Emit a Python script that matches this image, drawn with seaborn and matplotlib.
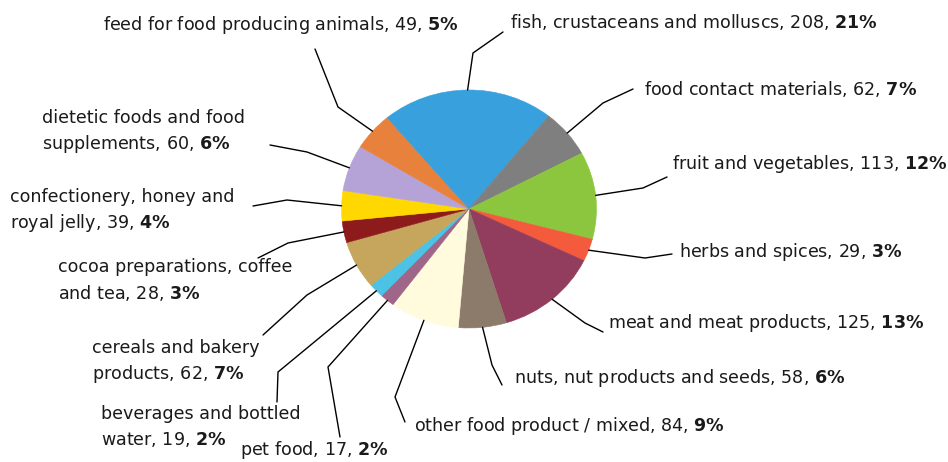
import numpy as np
import matplotlib
matplotlib.use("Agg")
import matplotlib.pyplot as plt
import seaborn as sns

# Notifications by product category (alphabetical, drawn clockwise)
categories = [
    "beverages and bottled\nwater",
    "cereals and bakery\nproducts",
    "cocoa preparations, coffee\nand tea",
    "confectionery, honey and\nroyal jelly",
    "dietetic foods and food\nsupplements",
    "feed for food producing animals",
    "fish, crustaceans and molluscs",
    "food contact materials",
    "fruit and vegetables",
    "herbs and spices",
    "meat and meat products",
    "nuts, nut products and seeds",
    "other food product / mixed",
    "pet food",
]
counts = [19, 62, 28, 39, 60, 49, 208, 62, 113, 29, 125, 58, 84, 17]
percents = [2, 7, 3, 4, 6, 5, 21, 7, 12, 3, 13, 6, 9, 2]
slice_colors = [
    "#4cc2e4", "#c6a55c", "#8e1b1b", "#ffd802", "#b5a3d8", "#e8813c", "#38a0dc",
    "#7f7f7f", "#8cc63f", "#f45b3c", "#923d5e", "#8c7a6a", "#fffbdc", "#a0668a",
]

# label anchor (left, vertical centre) and leader-line elbow / end, in pixels from top-left
label_pos = [
    (101, 427), (92, 361), (58, 280), (10, 210), (42, 131), (103, 25), (510, 22),
    (644, 89), (672, 164), (679, 252), (608, 323), (514, 378), (414, 426), (240, 450),
]
elbows = [
    (278, 372), (307, 295), (288, 243), (287, 200), (307, 152), (338, 107), (473, 53),
    (603, 103), (643, 188), (645, 258), (585, 323), (492, 365), (395, 397), (328, 367),
]
ends = [
    (277, 402), (263, 335), (258, 258), (253, 206), (270, 145), (315, 49), (503, 32),
    (633, 89), (667, 177), (672, 254), (603, 332), (502, 385), (405, 422), (340, 437),
]

W, H, DPI = 948, 462, 100
CX, CY, RX, RY = 469, 209, 127.5, 119
PAD = 1.04
LINE_STEP = 25.5

sns.set_theme(style="white")
plt.rcParams["font.family"] = ["DejaVu Sans"]
plt.rcParams["mathtext.fontset"] = "dejavusans"

fig = plt.figure(figsize=(W / DPI, H / DPI), dpi=DPI)
fig.patch.set_facecolor("white")

ax = fig.add_axes([(CX - RX * PAD) / W, (H - CY - RY * PAD) / H,
                   2 * RX * PAD / W, 2 * RY * PAD / H])
palette = sns.color_palette(slice_colors)
wedges, _ = ax.pie(counts, colors=palette, startangle=227, counterclock=False,
                   radius=1, wedgeprops=dict(linewidth=0.4))
for w, c in zip(wedges, palette):
    w.set_edgecolor(c)
ax.set_aspect("auto")
ax.set_xlim(-PAD, PAD)
ax.set_ylim(-PAD, PAD)
ax.axis("off")

ov = fig.add_axes([0, 0, 1, 1], zorder=3)
ov.set_xlim(0, W)
ov.set_ylim(H, 0)
ov.axis("off")
ov.patch.set_alpha(0)

for w, name, n, pct, (tx, ty), (ex, ey), (lx, ly) in zip(
        wedges, categories, counts, percents, label_pos, elbows, ends):
    mid = np.deg2rad((w.theta1 + w.theta2) / 2)
    sx = CX + RX * np.cos(mid)
    sy = CY - RY * np.sin(mid)
    ov.plot([sx, ex, lx], [sy, ey, ly], color="black", lw=1.0,
            solid_joinstyle="miter")
    lines = f"{name}, {n}, $\\mathbf{{{pct}\\%}}$".split("\n")
    y0 = ty - LINE_STEP * (len(lines) - 1) / 2
    for i, line in enumerate(lines):
        ov.text(tx, y0 + i * LINE_STEP, line, ha="left", va="center",
                fontsize=12.6, color="#1a1a1a")

fig.savefig("out.png", dpi=DPI, facecolor="white")
